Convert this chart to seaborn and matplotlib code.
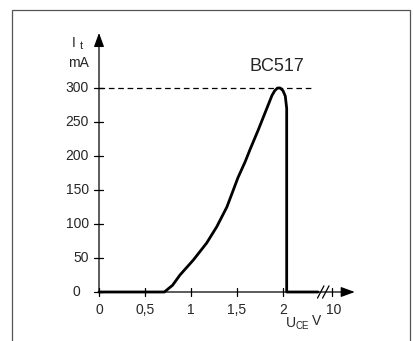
import numpy as np
import pandas as pd
import matplotlib
matplotlib.use("Agg")
import matplotlib.pyplot as plt
import seaborn as sns
from matplotlib.patches import Rectangle

# curve (x in V, y in mA)
u_ce = [0, 0.71, 0.8, 0.88, 1.025, 1.17, 1.28, 1.39, 1.46, 1.51, 1.59, 1.64,
        1.73, 1.83, 1.88, 1.91, 1.94, 1.97, 2.0, 2.025, 2.04, 2.04, 2.38]
i_t = [0, 0, 10, 25, 47, 72, 96, 125, 150, 168, 192, 209,
       238, 272, 289, 296, 300, 300, 296, 288, 270, 0, 0]

x_ticks = [0, 0.5, 1, 1.5, 2, 2.53]
x_labels = ["0", "0,5", "1", "1,5", "2", "10"]
y_ticks = [0, 50, 100, 150, 200, 250, 300]
limit = 300
break_x = 2.41

df = pd.DataFrame({"U": u_ce, "I": i_t})

sns.set_style("white")
plt.rcParams["font.family"] = ["Liberation Sans", "DejaVu Sans"]

fig = plt.figure(figsize=(4.13, 3.41), dpi=100)
ax = fig.add_axes([0, 0, 1, 1])
# pixel mapping: x_px = 99 + 92*U, y_px = 292 - 0.68*I
ax.set_xlim(-99 / 92, (413 - 99) / 92)
ax.set_ylim(-49 / 0.68, 292 / 0.68)
ax.axis("off")

fig.patches.append(Rectangle((12 / 413, -0.01), 398 / 413, 1 - 10 / 341 + 0.01,
                             transform=fig.transFigure, fill=False,
                             edgecolor="#555555", lw=0.9))

# axes with arrows
arrow = dict(arrowstyle="-|>,head_length=0.6,head_width=0.22", color="black",
             lw=0.9, mutation_scale=14, shrinkA=0, shrinkB=0)
ax.annotate("", xy=(0, 381), xytext=(0, 0), arrowprops=arrow)
ax.annotate("", xy=(2.78, 0), xytext=(0, 0), arrowprops=arrow)

# ticks
for t in y_ticks:
    ax.plot([-0.05, 0.045], [t, t], color="black", lw=0.9)
    if t == 0:
        ax.text(-0.245, t, str(t), ha="center", va="center", fontsize=10)
    else:
        ax.text(-0.11, t, str(t), ha="right", va="center", fontsize=10)
for t, lab in zip(x_ticks, x_labels):
    ax.plot([t, t], [-6.5, 6.5], color="black", lw=0.9)
    xt = 2.55 if lab == "10" else t
    ax.text(xt, -27, lab, ha="center", va="center", fontsize=10)

# axis break marks
for dx in [0, 0.055]:
    ax.plot([break_x - 0.035 + dx, break_x + 0.035 + dx], [-9, 9], color="black", lw=0.9)

# dashed limit
ax.plot([0, 2.31], [limit, limit], color="black", lw=0.9, ls=(0, (4.5, 3)))

sns.lineplot(data=df, x="U", y="I", sort=False, estimator=None,
             color="black", lw=2.0, ax=ax)

ax.text(-0.27, 366, "I", ha="center", va="center", fontsize=10)
ax.text(-0.195, 362, "t", ha="center", va="center", fontsize=8)
ax.text(-0.22, 337, "mA", ha="center", va="center", fontsize=10)
ax.text(1.93, 331, "BC517", ha="center", va="center", fontsize=13)
ax.text(2.09, -46, "U", ha="center", va="center", fontsize=10)
ax.text(2.14, -50, "CE", ha="left", va="center", fontsize=7)
ax.text(2.37, -43, "V", ha="center", va="center", fontsize=10)

ax.get_legend() and ax.get_legend().remove()
fig.savefig("out.png", dpi=100)
